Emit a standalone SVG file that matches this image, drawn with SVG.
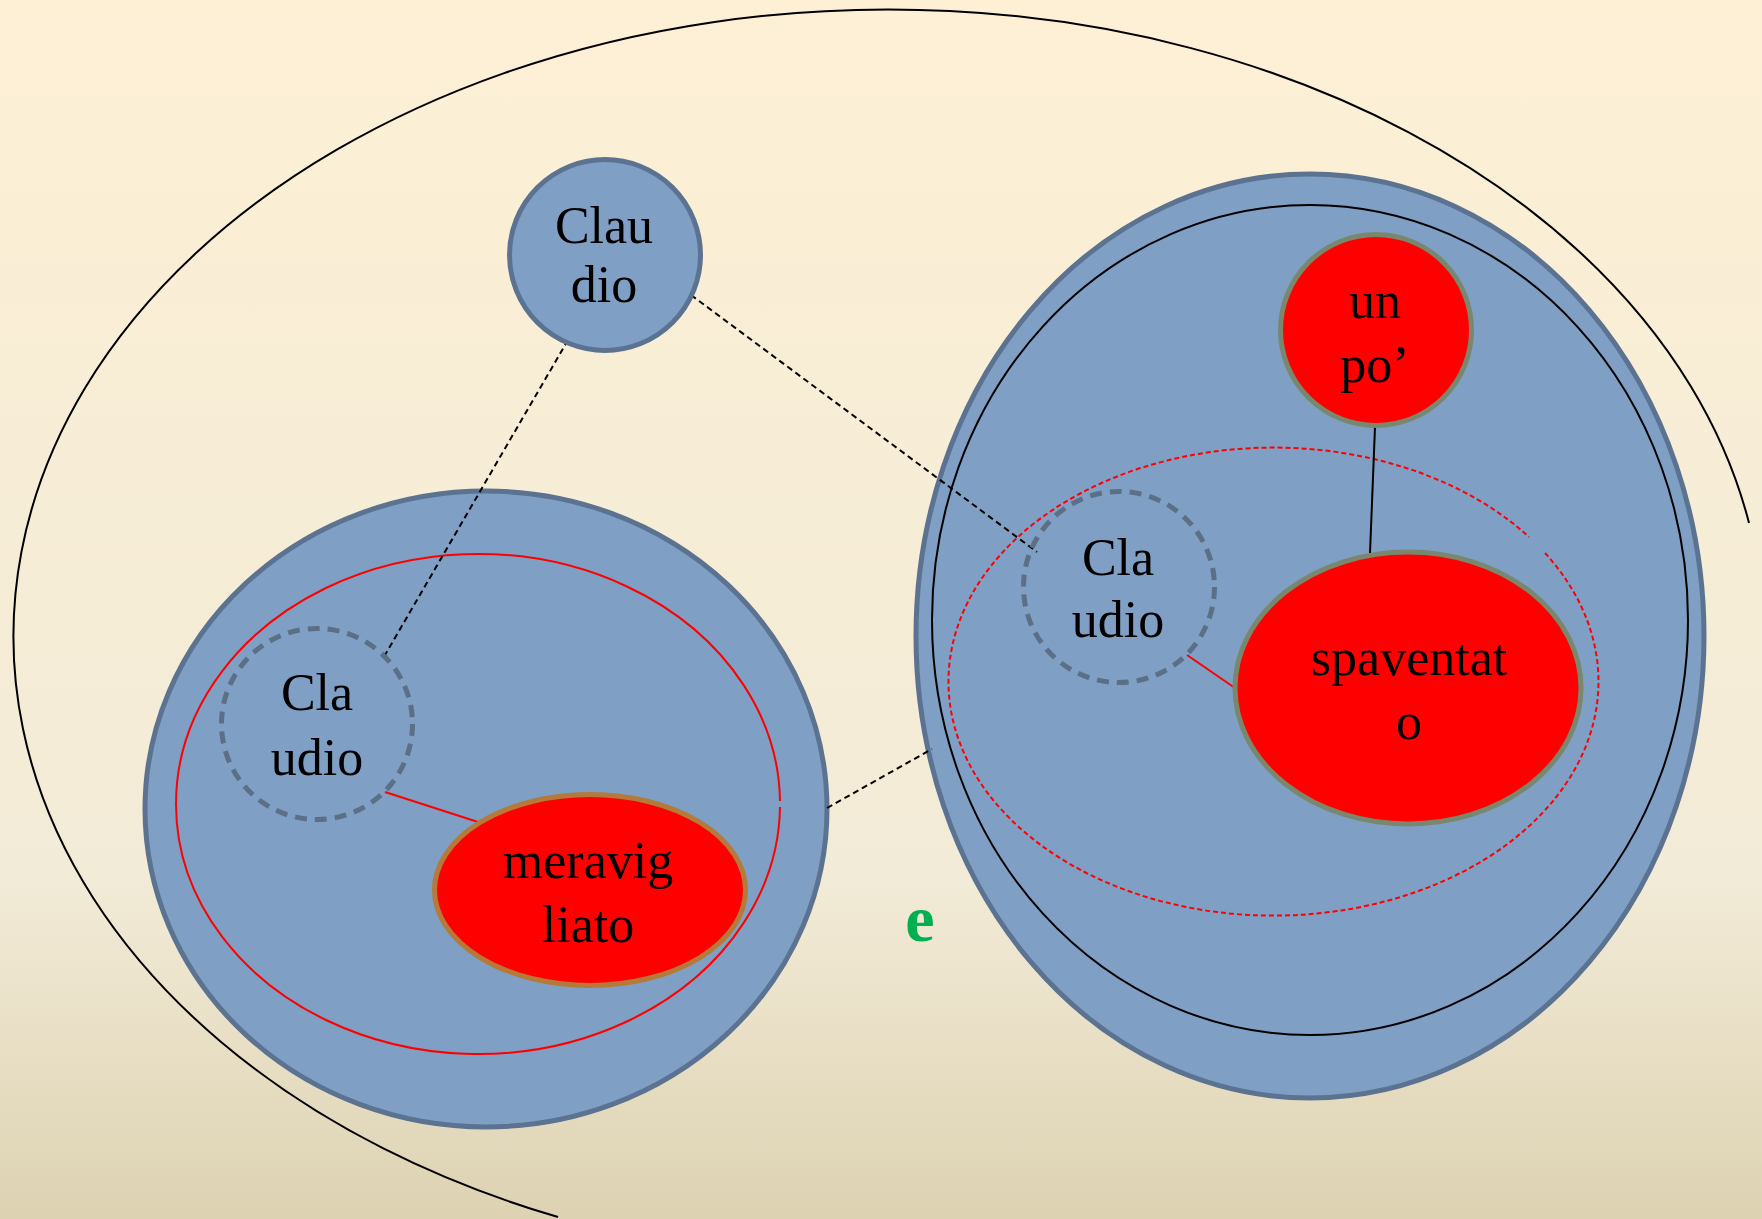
<svg xmlns="http://www.w3.org/2000/svg" width="1762" height="1219" viewBox="0 0 1762 1219">
<defs>
<linearGradient id="bg" x1="0" y1="0" x2="0" y2="1">
<stop offset="0" stop-color="#FDF0D5"/>
<stop offset="0.72" stop-color="#F2EBD7"/>
<stop offset="1" stop-color="#DDD2B2"/>
</linearGradient>
</defs>
<style>
.blob{fill:#7F9FC4;stroke:#5B7391;stroke-width:5}
.dcirc{fill:none;stroke:#5B6F87;stroke-width:5;stroke-dasharray:12 8}
.redn{fill:#FF0000;stroke:#7A876F;stroke-width:5}
.mer{fill:#FF0000;stroke:#B5793A;stroke-width:5}
.lbl{font-family:"Liberation Serif","Times New Roman",serif;font-size:52px;fill:#000;text-anchor:middle}
.dash{stroke:#000;stroke-width:2;stroke-dasharray:6 4;fill:none}
.solid{stroke:#000;stroke-width:2;fill:none}
.redl{stroke:#FF0000;stroke-width:2;fill:none}
</style>
<rect x="0" y="0" width="1762" height="1219" fill="url(#bg)"/>
<path d="M 1749 523 A 875 627 0 1 0 558 1217" class="solid"/>
<g id="left-group">
<ellipse cx="486" cy="809" rx="341" ry="318" class="blob"/>
<path d="M 780 807 A 302 250 0 1 1 780 801" class="redl"/>
</g>
<g id="right-group">
<ellipse cx="1310" cy="636" rx="394" ry="462" class="blob"/>
<ellipse cx="1310" cy="620" rx="378" ry="415" class="solid"/>
<path d="M 1545 553 A 325 234 0 1 1 1529 537" class="redl" stroke-dasharray="5 3"/>
</g>
<g id="connectors">
<line x1="568" y1="340" x2="385" y2="655" class="dash"/>
<line x1="691" y1="295" x2="1037" y2="552" class="dash"/>
<line x1="827" y1="808" x2="932" y2="749" class="dash"/>
<line x1="385" y1="792" x2="478" y2="822" class="redl"/>
<line x1="1187" y1="655" x2="1235" y2="688" class="redl"/>
<line x1="1375" y1="427" x2="1370" y2="553" class="solid"/>
</g>
<g id="claudio-top">
<circle cx="605" cy="255" r="95.5" class="blob"/>
<text x="604" y="243" class="lbl">Clau</text>
<text x="604" y="302" class="lbl">dio</text>
</g>
<g id="claudio-left">
<circle cx="317" cy="724" r="95.5" class="dcirc"/>
<text x="317" y="710" class="lbl">Cla</text>
<text x="317" y="775" class="lbl">udio</text>
</g>
<g id="meravigliato">
<ellipse cx="590" cy="890" rx="155.5" ry="95.5" class="mer"/>
<text x="588" y="878" class="lbl">meravig</text>
<text x="588" y="942" class="lbl">liato</text>
</g>
<g id="claudio-right">
<circle cx="1119" cy="587" r="95.5" class="dcirc"/>
<text x="1118" y="575" class="lbl">Cla</text>
<text x="1118" y="637" class="lbl">udio</text>
</g>
<g id="un-po">
<circle cx="1376" cy="330" r="95.5" class="redn"/>
<text x="1375" y="318" class="lbl">un</text>
<text x="1375" y="382" class="lbl">po’</text>
</g>
<g id="spaventato">
<ellipse cx="1408" cy="688" rx="173" ry="136" class="redn"/>
<text x="1409" y="675" class="lbl">spaventat</text>
<text x="1409" y="739" class="lbl">o</text>
</g>
<g id="e-label">
<text x="920" y="941" font-family="Liberation Serif, Times New Roman, serif" font-size="66" font-weight="bold" fill="#00B050" text-anchor="middle">e</text>
</g>
</svg>
